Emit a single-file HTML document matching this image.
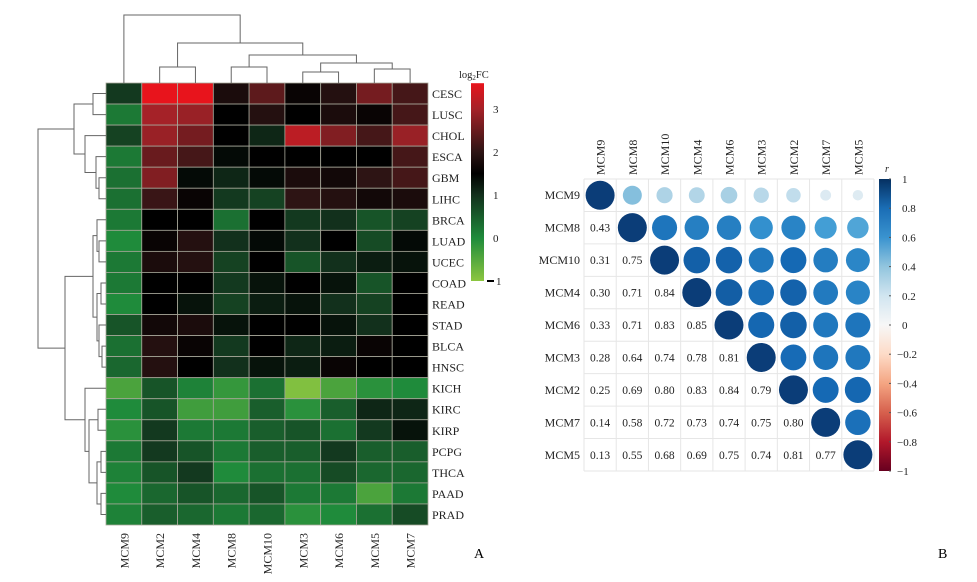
<!DOCTYPE html>
<html><head><meta charset="utf-8">
<style>
html,body{margin:0;padding:0;background:#fff;}
svg{display:block;font-family:"Liberation Serif",serif;}
</style></head>
<body>
<svg id="fig" width="977" height="582" viewBox="0 0 977 582" xmlns="http://www.w3.org/2000/svg">
<defs>
<linearGradient id="hmGrad" x1="0" y1="1" x2="0" y2="0">
<stop offset="0" stop-color="#8cc640"/>
<stop offset="0.217" stop-color="#1f8b3b"/>
<stop offset="0.435" stop-color="#12301c"/>
<stop offset="0.543" stop-color="#000000"/>
<stop offset="0.652" stop-color="#2d1414"/>
<stop offset="0.87" stop-color="#a52228"/>
<stop offset="1" stop-color="#e8141c"/>
</linearGradient>
<linearGradient id="rGrad" x1="0" y1="1" x2="0" y2="0">
<stop offset="0" stop-color="#67001f"/>
<stop offset="0.1" stop-color="#b2182b"/>
<stop offset="0.2" stop-color="#d6604d"/>
<stop offset="0.3" stop-color="#f4a582"/>
<stop offset="0.4" stop-color="#fddbc7"/>
<stop offset="0.5" stop-color="#f7f7f7"/>
<stop offset="0.6" stop-color="#d1e5f0"/>
<stop offset="0.7" stop-color="#92c5de"/>
<stop offset="0.8" stop-color="#3a93cf"/>
<stop offset="0.9" stop-color="#1a6db5"/>
<stop offset="1" stop-color="#053061"/>
</linearGradient>
</defs>
<g id="heat"></g>
<g id="corr"></g>
<text x="474" y="558" font-size="14">A</text>
<text x="938" y="558" font-size="14">B</text>
</svg>
<script>
const hmCols = ["MCM9","MCM2","MCM4","MCM8","MCM10","MCM3","MCM6","MCM5","MCM7"];
const hmRows = ["CESC","LUSC","CHOL","ESCA","GBM","LIHC","BRCA","LUAD","UCEC","COAD","READ","STAD","BLCA","HNSC","KICH","KIRC","KIRP","PCPG","THCA","PAAD","PRAD"];
const hmValues = [
[0.9,3.6,3.6,1.8,2.4,1.6,1.9,2.6,2.2],
[0.2,3.0,2.9,1.5,1.9,1.5,1.8,1.6,2.2],
[0.8,2.9,2.6,1.5,1.1,3.2,2.7,2.2,2.9],
[0.2,2.5,2.2,1.4,1.5,1.5,1.5,1.5,2.2],
[0.3,2.7,1.4,1.1,1.4,1.8,1.7,2.0,2.2],
[0.3,2.1,1.6,0.9,0.8,2.0,1.9,1.7,1.8],
[0.2,1.5,1.5,0.3,1.5,0.9,1.0,0.6,0.8],
[0.0,1.6,1.9,1.0,1.4,1.0,1.5,0.7,1.4],
[0.2,1.8,1.9,0.8,1.5,0.6,1.0,1.2,1.3],
[0.2,1.5,1.5,0.9,1.3,1.5,1.3,0.6,1.5],
[0.0,1.5,1.3,0.8,1.2,1.3,1.0,0.8,1.5],
[0.6,1.7,1.8,1.3,1.5,1.5,1.3,1.0,1.5],
[0.3,1.9,1.6,0.9,1.5,1.1,1.2,1.6,1.5],
[0.4,1.9,1.5,1.0,1.3,1.2,1.6,1.5,1.5],
[-0.4,0.6,0.1,-0.2,0.3,-0.9,-0.4,-0.1,0.0],
[0.0,0.6,-0.3,-0.3,0.5,-0.1,0.5,1.1,1.1],
[-0.1,0.9,0.2,0.2,0.5,0.6,0.3,0.9,1.3],
[0.2,0.9,0.6,0.2,0.5,0.5,0.9,0.5,0.5],
[0.1,0.6,0.9,0.0,0.3,0.3,0.7,0.4,0.4],
[0.0,0.4,0.6,0.4,0.6,0.2,0.2,-0.4,0.2],
[0.1,0.5,0.4,0.2,0.4,-0.1,0.0,0.3,0.7]
];
const hmTicks = [-1,0,1,2,3];
const corrLabels = ["MCM9","MCM8","MCM10","MCM4","MCM6","MCM3","MCM2","MCM7","MCM5"];
const corrLower = [
[],
[0.43],
[0.31,0.75],
[0.30,0.71,0.84],
[0.33,0.71,0.83,0.85],
[0.28,0.64,0.74,0.78,0.81],
[0.25,0.69,0.80,0.83,0.84,0.79],
[0.14,0.58,0.72,0.73,0.74,0.75,0.80],
[0.13,0.55,0.68,0.69,0.75,0.74,0.81,0.77]
];
const corrTicks = [1,0.8,0.6,0.4,0.2,0,-0.2,-0.4,-0.6,-0.8,-1];

const NS="http://www.w3.org/2000/svg";
function mk(tag,attrs,parent){const e=document.createElementNS(NS,tag);for(const k in attrs)e.setAttribute(k,attrs[k]);parent.appendChild(e);return e;}
function hex(c){return [parseInt(c.slice(1,3),16),parseInt(c.slice(3,5),16),parseInt(c.slice(5,7),16)];}
function interp(stops,v){
  if(v<=stops[0][0])return stops[0][1];
  for(let i=1;i<stops.length;i++){if(v<=stops[i][0]){const a=stops[i-1],b=stops[i];const t=(v-a[0])/(b[0]-a[0]);const A=hex(a[1]),B=hex(b[1]);return "rgb("+A.map((x,j)=>Math.round(x+(B[j]-x)*t)).join(",")+")";}}
  return stops[stops.length-1][1];
}
const hmStops=[[-1,"#8cc640"],[0,"#1f8b3b"],[1,"#12301c"],[1.5,"#000000"],[2,"#2d1414"],[3,"#a52228"],[3.6,"#e8141c"]];
const rStops=[[-1,"#67001f"],[-0.8,"#b2182b"],[-0.6,"#d6604d"],[-0.4,"#f4a582"],[-0.2,"#fddbc7"],[0,"#f7f7f7"],[0.2,"#d1e5f0"],[0.4,"#92c5de"],[0.6,"#3a9ad4"],[0.8,"#1569b4"],[1,"#0b3d78"]];

// ---------- Heatmap ----------
const heat=document.getElementById('heat');
const hx0=106,hx1=428,hy0=83,hy1=525;
const cw=(hx1-hx0)/hmCols.length, rh=(hy1-hy0)/hmRows.length;
const xC=i=>hx0+cw*(i+0.5), yR=i=>hy0+rh*(i+0.5);
hmValues.forEach((row,r)=>row.forEach((v,c)=>{
  const e=mk('rect',{x:hx0+c*cw,y:hy0+r*rh,width:cw,height:rh,fill:interp(hmStops,v),stroke:"#a8a89a","stroke-width":0.8},heat);
  
  
}));
hmRows.forEach((n,r)=>{const t=mk('text',{x:432,y:yR(r)+4.5,"font-size":12,fill:"#222"},heat);t.textContent=n;
  
  });
hmCols.forEach((n,c)=>{const t=mk('text',{x:0,y:0,"font-size":12,fill:"#222","text-anchor":"end",transform:"translate("+(xC(c)+4.5)+",533) rotate(-90)"},heat);t.textContent=n;
  
  });
// column dendrogram
const dg=mk('g',{stroke:"#666","stroke-width":1,fill:"none"},heat);


function colTree(node){
  if(typeof node==='number')return [xC(node),hy0];
  const a=colTree(node.l),b=colTree(node.r);
  mk('path',{d:`M${a[0]},${a[1]}V${node.h}H${b[0]}V${b[1]}`},dg);
  return [(a[0]+b[0])/2,node.h];
}
colTree({h:15,l:0,r:{h:43,l:{h:67,l:1,r:2},r:{h:55,l:{h:67,l:3,r:4},r:{h:63,l:{h:72,l:5,r:6},r:{h:69,l:7,r:8}}}}});
// row dendrogram
const rg=mk('g',{stroke:"#666","stroke-width":1,fill:"none"},heat);


function rowTree(node){
  if(typeof node==='number')return [hx0,yR(node)];
  const a=rowTree(node.l),b=rowTree(node.r);
  mk('path',{d:`M${a[0]},${a[1]}H${node.h}V${b[1]}H${b[0]}`},rg);
  return [node.h,(a[1]+b[1])/2];
}
rowTree({h:38,
  l:{h:74,l:{h:93,l:0,r:1},r:{h:85,l:2,r:{h:96,l:3,r:{h:99,l:4,r:5}}}},
  r:{h:65,
    l:{h:93,l:{h:97,l:6,r:{h:99,l:7,r:8}},r:{h:97,l:{h:101,l:9,r:10},r:{h:99,l:11,r:{h:102,l:12,r:13}}}},
    r:{h:85,l:14,r:{h:89,l:{h:98,l:15,r:16},r:{h:97,l:{h:101,l:17,r:18},r:{h:101,l:19,r:20}}}}}});
// heatmap legend
const lg=mk('g',{},heat);


const lv=v=>238-v*43;
mk('rect',{x:471,y:lv(3.6),width:13,height:lv(-1)-lv(3.6),fill:"url(#hmGrad)"},lg);
hmTicks.forEach(v=>{const t=mk('text',{x:v<0?496:493,y:lv(v)+4,"font-size":11,fill:"#222"},lg);t.textContent=v<0?"1":String(v);
  
  
  if(v<0)mk('line',{x1:487,x2:494,y1:lv(v),y2:lv(v),stroke:"#000","stroke-width":2},lg);});
const lt=mk('text',{x:459,y:78,"font-size":10.5,fill:"#222"},lg);
lt.innerHTML='log<tspan font-size="7" dy="2">2</tspan><tspan dy="-2">FC</tspan>';



// ---------- Correlation plot ----------
const corr=document.getElementById('corr');
const cx0=584,cx1=874,cy0=179,cy1=471,n=corrLabels.length;
const ccw=(cx1-cx0)/n, crh=(cy1-cy0)/n;
const cxC=i=>cx0+ccw*(i+0.5), cyC=i=>cy0+crh*(i+0.5);
for(let i=0;i<=n;i++){
  mk('line',{x1:cx0+i*ccw,x2:cx0+i*ccw,y1:cy0,y2:cy1,stroke:"#e6e6e6","stroke-width":1},corr);
  mk('line',{x1:cx0,x2:cx1,y1:cy0+i*crh,y2:cy0+i*crh,stroke:"#e6e6e6","stroke-width":1},corr);
}
function rval(i,j){if(i===j)return 1;return i>j?corrLower[i][j]:corrLower[j][i];}
for(let i=0;i<n;i++)for(let j=0;j<n;j++){
  const r=rval(i,j);
  if(j>=i){
    const c=mk('circle',{cx:cxC(j),cy:cyC(i),r:14.5*Math.sqrt(Math.abs(r)),fill:interp(rStops,r)},corr);
    
    
  } else {
    const t=mk('text',{x:cxC(j),y:cyC(i)+4,"font-size":11.5,"text-anchor":"middle",fill:"#222"},corr);
    t.textContent=r.toFixed(2);
    
    
  }
}
corrLabels.forEach((nm,i)=>{
  const t=mk('text',{x:580,y:cyC(i)+4,"font-size":12,"text-anchor":"end",fill:"#222"},corr);t.textContent=nm;
  
  
  const u=mk('text',{x:0,y:0,"font-size":12,fill:"#222",transform:"translate("+(cxC(i)+4.5)+",175) rotate(-90)"},corr);u.textContent=nm;
  
  
});
const cb=mk('g',{},corr);


mk('rect',{x:879,y:cy0,width:12,height:cy1-cy0,fill:"url(#rGrad)"},cb);
const cv=v=>cy0+(1-v)/2*(cy1-cy0);
corrTicks.forEach(v=>{
  mk('line',{x1:889,x2:891,y1:cv(v),y2:cv(v),stroke:"#555","stroke-width":1},cb);
  const t=mk('text',{x:v<0?897:902,y:cv(v)+4,"font-size":11,fill:"#222"},cb);
  t.textContent=(v<0?"\u2212":"")+String(Math.abs(v));
  
  
});
const rt=mk('text',{x:885,y:172,"font-size":10,"font-style":"italic",fill:"#222"},cb);rt.textContent="r";


</script>
</body></html>
